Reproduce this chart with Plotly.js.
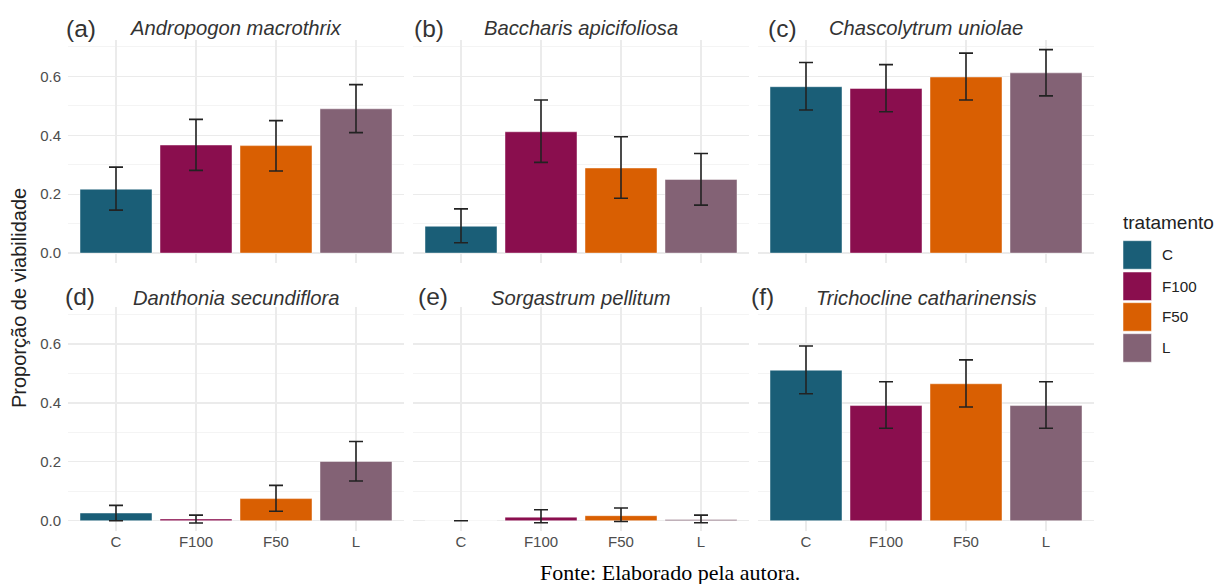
<!DOCTYPE html>
<html>
<head>
<meta charset="utf-8">
<script src="https://cdn.plot.ly/plotly-3.0.1.min.js"></script>
<style>html,body{margin:0;padding:0;background:#fff;}#chart{width:1216px;height:584px;}</style>
</head>
<body>
<div id="chart"></div>
<script>
// ---- data ----
const treatments = ['C', 'F100', 'F50', 'L'];
const treatmentColors = ['#1a5e77', '#8a0e4e', '#d95f02', '#836275'];
const species = ['Andropogon macrothrix', 'Baccharis apicifoliosa', 'Chascolytrum uniolae',
                 'Danthonia secundiflora', 'Sorgastrum pellitum', 'Trichocline catharinensis'];
const panelTags = ['(a)', '(b)', '(c)', '(d)', '(e)', '(f)'];

const meanAndropogon = [0.217, 0.367, 0.365, 0.490];
const upperAndropogon = [0.292, 0.454, 0.450, 0.572];
const lowerAndropogon = [0.146, 0.281, 0.279, 0.409];

const meanBaccharis = [0.091, 0.412, 0.289, 0.250];
const upperBaccharis = [0.150, 0.520, 0.395, 0.338];
const lowerBaccharis = [0.035, 0.308, 0.186, 0.163];

const meanChascolytrum = [0.565, 0.559, 0.598, 0.612];
const upperChascolytrum = [0.647, 0.640, 0.679, 0.691];
const lowerChascolytrum = [0.486, 0.480, 0.520, 0.534];

const meanDanthonia = [0.026, 0.006, 0.075, 0.201];
const upperDanthonia = [0.052, 0.019, 0.120, 0.269];
const lowerDanthonia = [0.000, -0.008, 0.032, 0.135];

const meanSorgastrum = [0.000, 0.012, 0.017, 0.004];
const upperSorgastrum = [0.000, 0.037, 0.043, 0.019];
const lowerSorgastrum = [0.000, -0.007, -0.003, -0.007];

const meanTrichocline = [0.511, 0.391, 0.465, 0.391];
const upperTrichocline = [0.593, 0.472, 0.546, 0.472];
const lowerTrichocline = [0.431, 0.314, 0.386, 0.314];

const yTickVals = [0, 0.2, 0.4, 0.6];
const yTickText = ['0.0', '0.2', '0.4', '0.6'];

const yAxisTitle = 'Proporção de viabilidade';
const legendTitle = 'tratamento';
const caption = 'Fonte: Elaborado pela autora.';

// ---- layout helpers ----
const W = 1216, H = 584;
const px = x => x / W;
const py = y => 1 - y / H;
const colLeft = [68, 413, 758];
const panelW = 336;
const rowTop = [39.6, 307.2];
const panelH = 223.5;
const tagX = [64, 412, 766, 63, 416, 749];
const yRange = [-0.034, 0.725];

const means = [meanAndropogon, meanBaccharis, meanChascolytrum, meanDanthonia, meanSorgastrum, meanTrichocline];
const uppers = [upperAndropogon, upperBaccharis, upperChascolytrum, upperDanthonia, upperSorgastrum, upperTrichocline];
const lowers = [lowerAndropogon, lowerBaccharis, lowerChascolytrum, lowerDanthonia, lowerSorgastrum, lowerTrichocline];

const sans = 'Liberation Sans, Arial, sans-serif';
const traces = [];
const layout = {
  width: W, height: H,
  margin: {l: 0, r: 0, t: 0, b: 0},
  paper_bgcolor: '#fff', plot_bgcolor: '#fff',
  showlegend: false,
  annotations: [], shapes: [],
  font: {family: sans}
};

for (let i = 0; i < 6; i++) {
  const row = Math.floor(i / 3), col = i % 3;
  const ax = i === 0 ? '' : String(i + 1);
  traces.push({
    type: 'bar',
    x: treatments,
    y: means[i],
    xaxis: 'x' + ax, yaxis: 'y' + ax,
    width: 0.9,
    marker: {color: treatmentColors, line: {color: 'rgba(255,255,255,0.45)', width: 1}},
    error_y: {
      type: 'data', symmetric: false,
      array: uppers[i].map((u, k) => u - means[i][k]),
      arrayminus: lowers[i].map((l, k) => means[i][k] - l),
      color: '#222', thickness: 1.6, width: 7
    },
    hoverinfo: 'x+y'
  });
  const x0 = colLeft[col], yTop = rowTop[row];
  layout['xaxis' + ax] = {
    domain: [px(x0), px(x0 + panelW)],
    anchor: 'y' + ax,
    type: 'category',
    range: [-0.6, 3.6],
    showgrid: true, gridcolor: '#ebebeb', gridwidth: 1.2,
    showline: false, zeroline: false, ticks: '',
    showticklabels: row === 1,
    ticklabelstandoff: 9.5,
    tickfont: {family: sans, size: 15, color: '#4d4d4d'},
    fixedrange: true
  };
  layout['yaxis' + ax] = {
    domain: [py(yTop + panelH), py(yTop)],
    anchor: 'x' + ax,
    range: yRange,
    tickvals: yTickVals, ticktext: yTickText,
    showgrid: true, gridcolor: '#ebebeb', gridwidth: 1.2,
    minor: {dtick: 0.1, tick0: 0.1, showgrid: true, gridcolor: '#f4f4f4', gridwidth: 1, ticks: ''},
    showline: false, zeroline: false, ticks: '',
    showticklabels: col === 0,
    ticklabelstandoff: 6,
    tickfont: {family: sans, size: 15, color: '#4d4d4d'},
    fixedrange: true
  };
  const titleY = row === 0 ? 28 : 297.5;
  layout.annotations.push({
    xref: 'paper', yref: 'paper', x: px(x0 + panelW / 2), y: py(titleY),
    xanchor: 'center', yanchor: 'middle', showarrow: false,
    text: species[i],
    font: {family: sans, size: 20.2, color: '#333333', style: 'italic'}
  });
  layout.annotations.push({
    xref: 'paper', yref: 'paper', x: px(tagX[i]), y: py(row === 0 ? 28.5 : 296.5),
    xanchor: 'left', yanchor: 'middle', showarrow: false,
    text: panelTags[i],
    font: {family: sans, size: 24.5, color: '#333333'}
  });
}

// y-axis title
layout.annotations.push({
  xref: 'paper', yref: 'paper', x: px(19), y: py(298),
  xanchor: 'center', yanchor: 'middle', showarrow: false, textangle: -90,
  text: yAxisTitle,
  font: {family: sans, size: 20, color: '#222'}
});

// legend (drawn manually to match ggplot key sizes)
layout.annotations.push({
  xref: 'paper', yref: 'paper', x: px(1121), y: py(222),
  xanchor: 'left', yanchor: 'middle', showarrow: false,
  text: legendTitle,
  font: {family: sans, size: 19, color: '#222'}
});
const keyTop = [240.7, 272, 302.7, 333.7];
treatments.forEach((t, k) => {
  layout.shapes.push({
    type: 'rect', xref: 'paper', yref: 'paper',
    x0: px(1123), x1: px(1151.5), y0: py(keyTop[k] + 28.5), y1: py(keyTop[k]),
    fillcolor: treatmentColors[k], line: {color: 'rgba(255,255,255,0.5)', width: 1}
  });
  layout.annotations.push({
    xref: 'paper', yref: 'paper', x: px(1160), y: py(keyTop[k] + 14.2),
    xanchor: 'left', yanchor: 'middle', showarrow: false,
    text: t,
    font: {family: sans, size: 15.2, color: '#222'}
  });
});

// caption
layout.annotations.push({
  xref: 'paper', yref: 'paper', x: px(670), y: py(572),
  xanchor: 'center', yanchor: 'middle', showarrow: false, borderpad: 0,
  text: caption,
  font: {family: 'Liberation Serif, Times New Roman, serif', size: 22, color: '#000'}
});

Plotly.newPlot('chart', traces, layout, {displayModeBar: false, staticPlot: true});
</script>
</body>
</html>
